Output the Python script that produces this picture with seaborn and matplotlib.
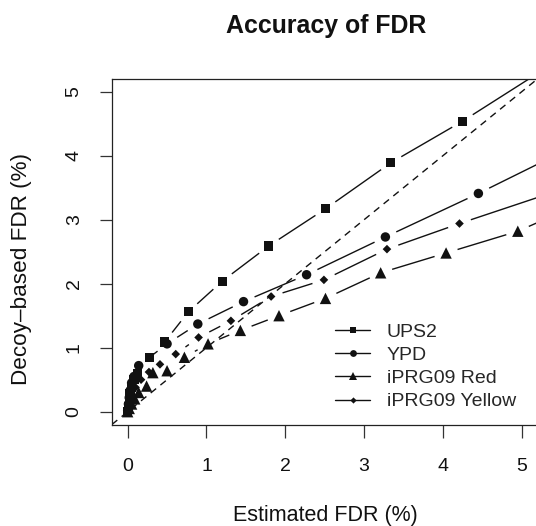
import numpy as np
import pandas as pd
import matplotlib
matplotlib.use("Agg")
import matplotlib.pyplot as plt
import seaborn as sns
from matplotlib.lines import Line2D

# ---- data ----
series_names = ["UPS2", "YPD", "iPRG09 Red", "iPRG09 Yellow"]

ups2_x = [0.0, 0.01, 0.02, 0.03, 0.05, 0.08, 0.12, 0.28, 0.47, 0.77, 1.20, 1.79, 2.51, 3.34, 4.25, 5.45]
ups2_y = [0.0, 0.08, 0.18, 0.28, 0.38, 0.50, 0.60, 0.85, 1.09, 1.56, 2.04, 2.59, 3.17, 3.89, 4.54, 5.48]

ypd_x = [0.0, 0.01, 0.02, 0.03, 0.05, 0.08, 0.14, 0.50, 0.89, 1.47, 2.27, 3.27, 4.45, 5.60]
ypd_y = [0.02, 0.12, 0.22, 0.33, 0.45, 0.55, 0.72, 1.06, 1.37, 1.72, 2.14, 2.73, 3.41, 4.11]

red_x = [0.0, 0.02, 0.05, 0.09, 0.14, 0.24, 0.32, 0.50, 0.72, 1.02, 1.43, 1.92, 2.51, 3.21, 4.04, 4.95, 5.60]
red_y = [0.0, 0.05, 0.12, 0.20, 0.30, 0.40, 0.61, 0.64, 0.85, 1.06, 1.27, 1.50, 1.77, 2.17, 2.48, 2.82, 3.17]

yellow_x = [0.0, 0.01, 0.03, 0.06, 0.10, 0.17, 0.27, 0.41, 0.61, 0.90, 1.31, 1.82, 2.49, 3.29, 4.21, 5.50]
yellow_y = [0.0, 0.06, 0.15, 0.25, 0.38, 0.50, 0.62, 0.74, 0.90, 1.16, 1.42, 1.80, 2.06, 2.54, 2.94, 3.47]

x_ticks = [0, 1, 2, 3, 4, 5]
y_ticks = [0, 1, 2, 3, 4, 5]

series_x = [ups2_x, ypd_x, red_x, yellow_x]
series_y = [ups2_y, ypd_y, red_y, yellow_y]

# ---- style ----
sns.set_style("ticks")
plt.rcParams["font.family"] = ["Liberation Sans", "DejaVu Sans"]

markers = {"UPS2": "s", "YPD": "o", "iPRG09 Red": "^", "iPRG09 Yellow": "D"}
msizes = {"UPS2": 6.6, "YPD": 6.8, "iPRG09 Red": 8.2, "iPRG09 Yellow": 4.4}
ink = "#111111"

df = pd.concat(
    [pd.DataFrame({"x": xs, "y": ys, "series": name})
     for name, xs, ys in zip(series_names, series_x, series_y)],
    ignore_index=True,
)

W, H = 536, 526
fig = plt.figure(figsize=(W / 100, H / 100), dpi=100)
left_px, right_px, top_px, bottom_px = 111.9, 537.5, 78.9, 424.5
ax = fig.add_axes([left_px / W, 1 - bottom_px / H,
                   (right_px - left_px) / W, (bottom_px - top_px) / H])
ax.set_xlim(-0.2, 5.2)
ax.set_ylim(-0.2, 5.2)

# identity reference line
ax.plot([-0.2, 5.2], [-0.2, 5.2], color=ink, lw=1.0, dashes=(5, 4), zorder=1)

# lines with gaps around points (R type = "b")
gap = 12.0
inv = ax.transData.inverted()
for name, xs, ys in zip(series_names, series_x, series_y):
    pts = ax.transData.transform(np.column_stack([xs, ys]))
    for p0, p1 in zip(pts[:-1], pts[1:]):
        d = np.hypot(*(p1 - p0))
        if d <= 2 * gap:
            continue
        u = (p1 - p0) / d
        a = inv.transform(p0 + u * gap)
        b = inv.transform(p1 - u * gap)
        ax.plot([a[0], b[0]], [a[1], b[1]], color=ink, lw=1.0,
                solid_capstyle="butt", zorder=2)

# markers through seaborn
sns.scatterplot(data=df, x="x", y="y", style="series", markers=markers,
                size="series", sizes={k: v ** 2 for k, v in msizes.items()},
                color=ink, edgecolor="none", linewidth=0, legend=False,
                ax=ax, zorder=3)

# ---- axes ----
for s in ax.spines.values():
    s.set_color("#222222")
    s.set_linewidth(0.9)
ax.set_xticks(x_ticks)
ax.set_yticks(y_ticks)
ax.set_xticklabels([str(t) for t in x_ticks])
ax.set_yticklabels([str(t) for t in y_ticks])
ax.tick_params(axis="both", length=9, width=0.9, color="#333333",
               labelsize=14, labelcolor=ink)
ax.tick_params(axis="x", pad=15)
ax.tick_params(axis="y", pad=12, labelrotation=90)
for lab in ax.get_yticklabels():
    lab.set_va("center")

ax.set_xlabel("Estimated FDR (%)", fontsize=15.5, color=ink)
ax.set_ylabel("Decoy\u2013based FDR (%)", fontsize=16.2, color=ink)
ax.xaxis.label.set_va("center")
ax.yaxis.label.set_va("center")
ax.xaxis.set_label_coords((325.5 - left_px) / (right_px - left_px),
                          (bottom_px - 516) / (bottom_px - top_px))
ax.yaxis.set_label_coords((22 - left_px) / (right_px - left_px),
                          (bottom_px - 269) / (bottom_px - top_px))

ax.set_title("Accuracy of FDR", fontsize=17.9, fontweight="bold", color=ink,
             x=(326 - left_px) / (right_px - left_px),
             y=(bottom_px - 26) / (bottom_px - top_px), va="center", pad=0)

# ---- legend ----
handles = [Line2D([], [], color=ink, lw=1.0, marker=markers[n],
                  markersize=msizes[n] * 0.72, markeredgewidth=0)
           for n in series_names]
ax.legend(handles, series_names, loc="upper left",
          bbox_to_anchor=(335 / W, 1 - 323 / H), bbox_transform=fig.transFigure,
          frameon=False, fontsize=14, handlelength=1.8, handletextpad=0.87,
          labelspacing=0.29, borderpad=0, borderaxespad=0)

fig.savefig("out.png", dpi=100)
